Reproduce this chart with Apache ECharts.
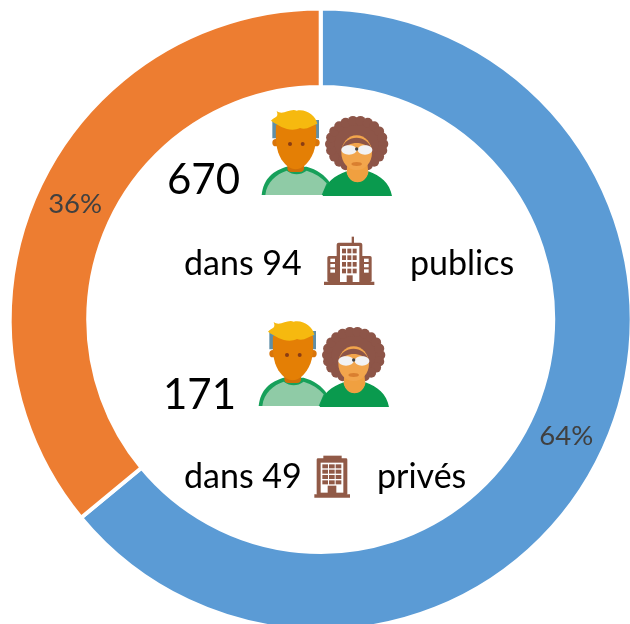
<!DOCTYPE html>
<html><head><meta charset="utf-8">
<style>html,body{margin:0;padding:0;background:#fff}#c{width:630px;height:624px}</style>
<script src="https://cdn.jsdelivr.net/npm/echarts@6/dist/echarts.min.js"></script>
</head><body><div id="c"></div>
<script>
const shareNames = ['publics', 'privés'];
const shareValues = [64, 36];
const shareColors = ['#5B9BD5', '#ED7D31'];
const peopleCounts = ['670', '171'];
const siteLabels = ['dans 94', 'dans 49'];
const sectorLabels = ['publics', 'privés'];
const FONT = 'Lato, "Open Sans", sans-serif';

let pathId = 0;
const pathCache = {};
function P(d, fill) {
  if (!pathCache[d]) {
    pathCache[d] = 'iconPath' + (pathId++);
    echarts.graphic.registerShape(pathCache[d], echarts.graphic.extendPath(d, {}));
  }
  return {type:pathCache[d], style:{fill}};
}

function people(x, y) {
  const curls = [];
  for (let i = 0; i < 22; i++) {
    const a = i / 22 * Math.PI * 2;
    curls.push({type:'circle', shape:{cx:620+80*Math.cos(a), cy:132+70*Math.sin(a), r:15}, style:{fill:'#8D5548'}});
  }
  return {type:'group', x, y, scaleX:1/3, scaleY:1/3, silent:true, children:[
    P('M335 285C340 235 370 212 410 200L470 200C500 208 525 225 540 248L520 285Z', '#17A05A'),
    P('M346 285C350 245 380 222 410 212C430 226 450 226 470 212C495 220 515 232 530 250L515 285Z', '#8FCBA6'),
    {type:'rect', shape:{x:367,y:60,width:140,height:55}, style:{fill:'#5F8FA8'}},
    {type:'circle', shape:{cx:378,cy:128,r:11}, style:{fill:'#D9750A'}},
    {type:'circle', shape:{cx:498,cy:128,r:11}, style:{fill:'#D9750A'}},
    {type:'rect', shape:{x:412,y:170,width:50,height:46,r:12}, style:{fill:'#CF6F08'}},
    P('M378 75L498 75C500 120 498 150 480 178C465 200 450 208 437 208C424 208 409 200 394 178C378 150 376 120 378 75Z', '#E47F05'),
    P('M363 62C372 50 388 55 380 33C398 48 420 24 440 32C470 26 498 48 502 72C485 76 470 92 450 84C420 98 390 80 363 62Z', '#F6B90F'),
    {type:'circle', shape:{cx:420,cy:132,r:6}, style:{fill:'#8A3D14'}},
    {type:'circle', shape:{cx:458,cy:132,r:6}, style:{fill:'#8A3D14'}},
    {type:'ellipse', shape:{cx:620,cy:130,rx:85,ry:76}, style:{fill:'#8D5548'}},
    ...curls,
    P('M518 288C525 248 555 226 590 214C600 256 645 256 655 214C690 226 720 250 726 288Z', '#0A9A4E'),
    P('M592 190L652 190L655 218C645 256 600 256 590 218Z', '#F0A040'),
    {type:'ellipse', shape:{cx:620,cy:158,rx:46,ry:52}, style:{fill:'#F2A54C'}},
    P('M574 150C585 102 652 100 666 150C640 122 600 122 574 150Z', '#8D5548'),
    {type:'ellipse', shape:{cx:597,cy:150,rx:23,ry:14}, style:{fill:'#F2F2F4'}},
    {type:'ellipse', shape:{cx:645,cy:150,rx:22,ry:14}, style:{fill:'#F2F2F4'}},
    {type:'circle', shape:{cx:620,cy:147,r:5}, style:{fill:'#444'}},
    {type:'ellipse', shape:{cx:620,cy:192,rx:16,ry:6}, style:{fill:'#D97F30'}}
  ]};
}

function win(x, y, w, h) {
  return {type:'rect', shape:{x,y,width:w,height:h}, style:{fill:'#fff'}};
}
function tower(x, y) {
  const kids = [
    {type:'rect', shape:{x:522,y:545,width:151,height:10}, style:{fill:'#915A47'}},
    {type:'rect', shape:{x:605,y:410,width:7,height:20}, style:{fill:'#915A47'}},
    {type:'rect', shape:{x:560,y:428,width:77,height:118,r:6}, style:{fill:'#915A47'}},
    {type:'rect', shape:{x:532,y:468,width:133,height:78,r:5}, style:{fill:'#915A47'}},
    {type:'rect', shape:{x:570,y:438,width:58,height:108}, style:{fill:'#fff'}}
  ];
  for (let r = 0; r < 4; r++) for (let c = 0; c < 3; c++) {
    kids.push({type:'rect', shape:{x:576+c*16,y:446+r*20,width:12,height:14}, style:{fill:'#915A47'}});
  }
  kids.push({type:'rect', shape:{x:590,y:526,width:18,height:20}, style:{fill:'#915A47'}});
  for (let r = 0; r < 3; r++) {
    kids.push(win(541,476+r*16,14,10), win(642,476+r*16,14,10));
  }
  return {type:'group', x, y, scaleX:1/3, scaleY:1/3, silent:true, children:kids};
}
function office(x, y) {
  const kids = [
    {type:'rect', shape:{x:493,y:553,width:107,height:10}, style:{fill:'#915A47'}},
    {type:'rect', shape:{x:520,y:437,width:55,height:10}, style:{fill:'#915A47'}},
    {type:'rect', shape:{x:500,y:445,width:92,height:110,r:4}, style:{fill:'#915A47'}},
    win(512,458,68,90)
  ];
  for (let r = 0; r < 4; r++) for (let c = 0; c < 3; c++) {
    kids.push({type:'rect', shape:{x:517+c*20,y:463+r*16,width:17,height:12}, style:{fill:'#915A47'}});
  }
  kids.push({type:'rect', shape:{x:533,y:527,width:26,height:26}, style:{fill:'#915A47'}});
  return {type:'group', x, y, scaleX:1/3, scaleY:1/3, silent:true, children:kids};
}
function txt(text, x, y, size) {
  return {type:'text', x, y, silent:true, style:{text, fill:'#000', font:size+'px '+FONT, verticalAlign:'middle'}};
}

const chart = echarts.init(document.getElementById('c'), null, {renderer:'canvas'});
chart.setOption({
  animation:false,
  backgroundColor:'#fff',
  series:[{
    type:'pie', center:[320.7,319.5], radius:[232.5,311], startAngle:90, clockwise:true,
    silent:true,
    data:shareValues.map((v,i)=>({name:shareNames[i], value:v, itemStyle:{color:shareColors[i]},
      label:{offset: i === 0 ? [-3,0] : [3,2]}})),
    itemStyle:{borderColor:'#fff', borderWidth:4},
    label:{show:true, position:'inside', formatter:p=>p.value+'%', color:'#404040', fontSize:27.5, fontFamily:FONT},
    labelLine:{show:false}
  }],
  graphic:[
    people(150,100), people(147,311),
    tower(150,100), office(150,310),
    txt(peopleCounts[0],167,180,42), txt(peopleCounts[1],163,395,42),
    txt(siteLabels[0],184,264,34), txt(siteLabels[1],184,477,34),
    txt(sectorLabels[0],410,264,34), txt(sectorLabels[1],377,477,34)
  ]
});
</script></body></html>
